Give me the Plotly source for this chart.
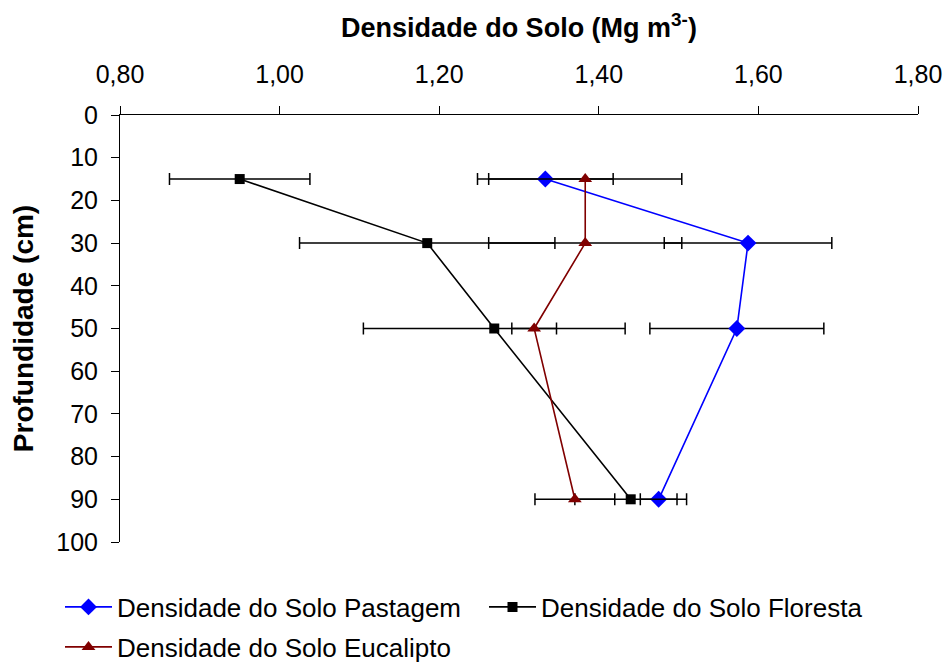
import plotly.graph_objects as go

depth = [15, 30, 50, 90]

pastagem = [1.333, 1.587, 1.573, 1.475]
pastagem_err = [0.085, 0.105, 0.109, 0.023]

floresta = [0.950, 1.185, 1.269, 1.440]
floresta_err = [0.088, 0.160, 0.164, 0.070]

eucalipto = [1.383, 1.383, 1.319, 1.370]
eucalipto_err = [0.121, 0.121, 0.028, 0.050]

x_ticks = [0.8, 1.0, 1.2, 1.4, 1.6, 1.8]
y_ticks = [0, 10, 20, 30, 40, 50, 60, 70, 80, 90, 100]

FONT = "Liberation Sans, Arial, sans-serif"
W, H = 950, 663
ML, MR, MT, MB = 120, 32, 115, 121
PW, PH = W - ML - MR, H - MT - MB


def err(vals):
    return dict(type="data", array=vals, visible=True, color="black",
                thickness=1.5, width=6)


fig = go.Figure()
fig.add_trace(go.Scatter(
    x=pastagem, y=depth, name="Densidade do Solo Pastagem",
    mode="lines+markers", line=dict(color="#0000FF", width=1.6),
    marker=dict(symbol="diamond", size=13, color="#0000FF"),
    error_x=err(pastagem_err), legend="legend"))
fig.add_trace(go.Scatter(
    x=floresta, y=depth, name="Densidade do Solo Floresta",
    mode="lines+markers", line=dict(color="black", width=1.6),
    marker=dict(symbol="square", size=10, color="black"),
    error_x=err(floresta_err), legend="legend"))
fig.add_trace(go.Scatter(
    x=eucalipto, y=depth, name="Densidade do Solo Eucalipto",
    mode="lines+markers", line=dict(color="#800000", width=1.6),
    marker=dict(symbol="triangle-up", size=12, color="#800000"),
    error_x=err(eucalipto_err), legend="legend2"))

leg_x = (60 - ML) / PW
leg_common = dict(orientation="h", xanchor="left", yanchor="middle",
                  font=dict(size=26), entrywidth=362,
                  entrywidthmode="pixels", itemwidth=47,
                  traceorder="normal", bgcolor="rgba(0,0,0,0)")

fig.update_layout(
    width=W, height=H,
    margin=dict(l=ML, r=MR, t=MT, b=MB, autoexpand=False),
    paper_bgcolor="white", plot_bgcolor="white",
    separators=",.",
    font=dict(family=FONT, size=24, color="black"),
    showlegend=True,
    legend=dict(x=leg_x, y=(H - MB - 607) / PH, **leg_common),
    legend2=dict(x=leg_x, y=(H - MB - 647) / PH, **leg_common),
)
fig.update_xaxes(
    side="top", range=[0.8, 1.8], tickvals=x_ticks, tickformat=".2f",
    ticks="outside", ticklen=8, tickcolor="black", showline=True,
    linecolor="black", linewidth=1, showgrid=False, zeroline=False,
    tickfont=dict(size=25), ticklabelstandoff=13,
    title=dict(text="<b>Densidade do Solo (Mg m<sup>3-</sup>)</b>",
               font=dict(size=27), standoff=14),
)
fig.update_yaxes(
    range=[100, 0], tickvals=y_ticks, ticks="outside", ticklen=8,
    tickcolor="black", showline=True, linecolor="black", linewidth=1,
    showgrid=False, zeroline=False, tickfont=dict(size=25),
    ticklabelstandoff=8,
    title=dict(text="<b>Profundidade (cm)</b>", font=dict(size=28), standoff=14),
)

fig.write_html("out.html")
